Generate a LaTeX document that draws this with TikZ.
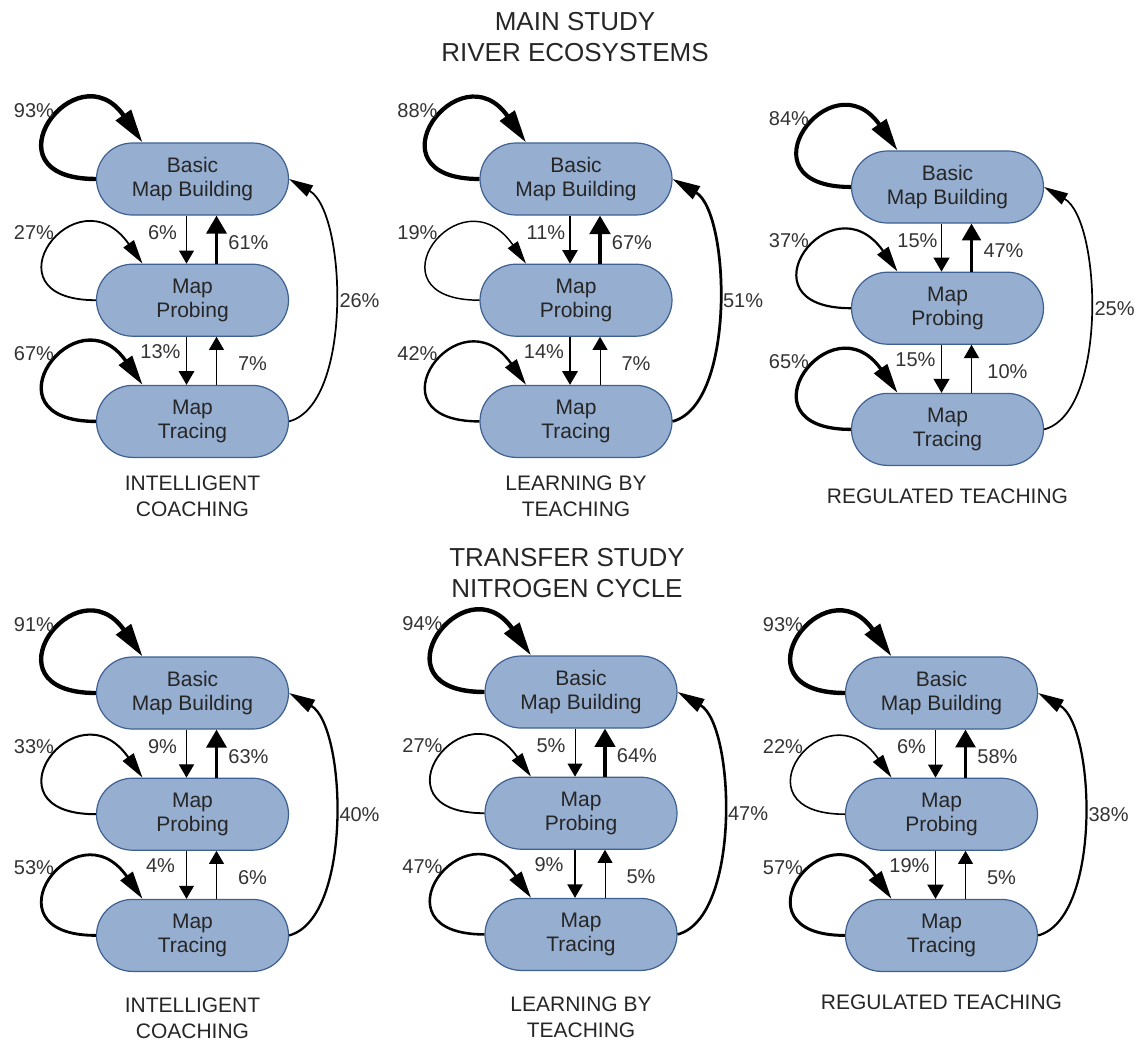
\documentclass[tikz,border=0pt]{standalone}
\usepackage{fontspec}
\setmainfont{Liberation Sans}
\usetikzlibrary{positioning,arrows.meta}
\definecolor{boxfill}{RGB}{150,174,208}
\definecolor{boxline}{RGB}{62,96,146}
% line width and head size from the percentage: #1 pct, #2/#3 head length, #4/#5 head width
\newcommand\flowset[5]{%
    \pgfmathsetlengthmacro\flowlw{0.35pt+#1*0.02pt}%
    \pgfmathsetlengthmacro\flowal{#2pt+#3*\flowlw}%
    \pgfmathsetlengthmacro\flowaw{#4pt+#5*\flowlw}%
    \edef\flowtmp{\noexpand\tikzset{line width=\flowlw,-{Triangle[length=\flowal,width=\flowaw]}}}%
    \flowtmp}
\begin{document}
\begin{tikzpicture}[
    x=0.5pt,y=-0.5pt,
    box/.style={rectangle,rounded corners=18pt,draw=boxline,fill=boxfill,line width=0.6pt,minimum width=96pt,minimum height=36pt,align=center,font=\fontsize{10.5}{12}\selectfont,text=black!85},
    flow/.code={\flowset{#1}{5.5}{2.2}{6.4}{2.3}},
    loopflow/.code={\flowset{#1}{9}{3.5}{4.5}{2}},
    pct/.style={font=\fontsize{10}{12}\selectfont,text=black!80,inner sep=0pt},
    captext/.style={align=center,inner sep=0pt,font=\fontsize{10.5}{13}\selectfont,text=black!85},
    title/.style={align=center,inner sep=0pt,font=\fontsize{13}{15.75}\selectfont,text=black!85},
    node distance=24pt
]
    \useasboundingbox (0,0) rectangle (1145,1040);

    % Titles
    \node[title] (main) at (575,37) {MAIN STUDY\\RIVER ECOSYSTEMS};
    \node[title] (transfer) at (567,573) {TRANSFER STUDY\\NITROGEN CYCLE};

    % Panels: name/x/y/self loops B,P,T/B->P/P->B/P->T/T->P/T->B/caption/gap
    \foreach \n/\cx/\cy/\sB/\sP/\sT/\dBP/\uPB/\dPT/\uTP/\rTB/\capt/\cg in {
        1/192.5/179/93/27/67/6/61/13/7/26/{INTELLIGENT\\COACHING}/8.75pt,
        2/576/179/88/19/42/11/67/14/7/51/{LEARNING BY\\TEACHING}/8.75pt,
        3/947.5/187/84/37/65/15/47/15/10/25/{REGULATED TEACHING}/11.25pt,
        4/192.5/693/91/33/53/9/63/4/6/40/{INTELLIGENT\\COACHING}/12.75pt,
        5/581/692/94/27/47/5/64/9/5/47/{LEARNING BY\\TEACHING}/12.75pt,
        6/941.5/693/93/22/57/6/58/19/5/38/{REGULATED TEACHING}/11pt}{
        % States
        \node[box] (b\n) at (\cx,\cy) {Basic\\Map Building};
        \node[box,below=of b\n] (p\n) {Map\\Probing};
        \node[box,below=of p\n] (t\n) {Map\\Tracing};
        \node[captext,below=\cg of t\n] (c\n) {\capt};

        % Self loops
        \foreach \k/\v in {b/\sB,p/\sP,t/\sT}{
            \draw[loopflow=\v] (\k\n.west) to[out=180,in=125,looseness=5] ([xshift=-25pt]\k\n.north);
            \node[pct] (l\k\n) at ([shift={(-31pt,34pt)}]\k\n.west) {\v\%};
        }

        % Transitions
        \draw[flow=\dBP] ([xshift=-3pt]b\n.south) -- ([xshift=-3pt]p\n.north);
        \draw[flow=\uPB] ([xshift=12pt]p\n.north) -- ([xshift=12pt]b\n.south);
        \draw[flow=\dPT] ([xshift=-3pt]p\n.south) -- ([xshift=-3pt]t\n.north);
        \draw[flow=\uTP] ([xshift=12pt]t\n.north) -- ([xshift=12pt]p\n.south);
        \draw[loopflow=\rTB] (t\n.east) to[out=15,in=-30,looseness=0.7] (b\n.east);

        \node[pct] (dbp\n) at ([shift={(-15pt,-8.5pt)}]b\n.south) {\dBP\%};
        \node[pct] (upb\n) at ([shift={(28pt,-13.5pt)}]b\n.south) {\uPB\%};
        \node[pct] (dpt\n) at ([shift={(-16pt,-7.5pt)}]p\n.south) {\dPT\%};
        \node[pct] (utp\n) at ([shift={(30pt,-13.5pt)}]p\n.south) {\uTP\%};
        \node[pct,anchor=west] (rtb\n) at ([xshift=25pt]p\n.east) {\rTB\%};
    }
\end{tikzpicture}
\end{document}
